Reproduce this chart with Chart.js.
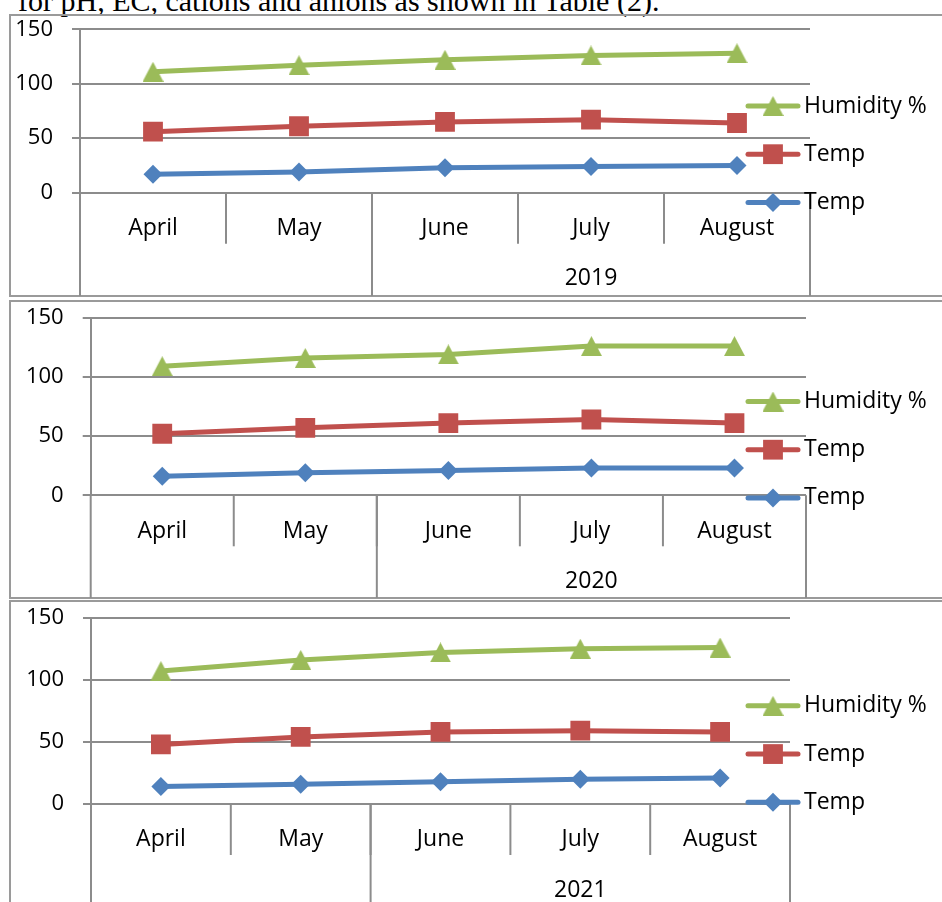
<!DOCTYPE html>
<html>
<head>
<meta charset="utf-8">
<script src="https://cdn.jsdelivr.net/npm/chart.js@4.4.1/dist/chart.umd.min.js"></script>
<style>
  body { margin: 0; background: #fff; width: 942px; height: 902px; overflow: hidden; position: relative; }
  .texto { position: absolute; left: 18px; top: -14px; font-family: "Liberation Serif", serif; font-size: 30px; line-height: 30px; white-space: nowrap; color: #000; }
  .marco { position: absolute; left: 9px; width: 960px; border: 2px solid #9a9a9a; box-sizing: border-box; }
  canvas { position: absolute; left: 0; }
</style>
</head>
<body>
<div class="texto">for pH, EC, cations and anions as shown in Table (2).</div>

<div class="marco" style="top:14px; height:283px"></div>
<div class="marco" style="top:300px; height:299px"></div>
<div class="marco" style="top:600px; height:330px"></div>

<canvas id="g2019" width="942" height="282" style="top:14px"></canvas>
<canvas id="g2020" width="942" height="297" style="top:301px"></canvas>
<canvas id="g2021" width="942" height="301" style="top:601px"></canvas>

<script>
// --- DATOS ---
const meses = ['April', 'May', 'June', 'July', 'August'];
const anios = ['2019', '2020', '2021'];
const mesesPorGrupo = [2, 3]; // grupo sin nombre (April, May) y grupo del año (June-August)
const serieNombres = ['Temp', 'Temp', 'Humidity %'];
const yTicks = [0, 50, 100, 150];

const tempAzul2019 = [17, 19, 23, 24, 25];
const tempRojo2019 = [56, 61, 65, 67, 64];
const humedad2019 = [111, 117, 122, 126, 128];

const tempAzul2020 = [16, 19, 21, 23, 23];
const tempRojo2020 = [52, 57, 61, 64, 61];
const humedad2020 = [109, 116, 119, 126, 126];

const tempAzul2021 = [14, 16, 18, 20, 21];
const tempRojo2021 = [48, 54, 58, 59, 58];
const humedad2021 = [107, 116, 122, 125, 126];

// --- ESTILO ---
const AZUL = '#4F81BD', ROJO = '#C0504D', VERDE = '#9BBB59', GRIS = '#8c8c8c';
const FUENTE = { family: '"Open Sans", sans-serif', size: 23 };
const FUENTE_Y = { family: '"Open Sans", sans-serif', size: 22 };

// triángulo centrado en el punto, como el marcador de Excel
function hacerTriangulo(color) {
    const c = document.createElement('canvas');
    c.width = 21; c.height = 20;
    const g = c.getContext('2d');
    g.fillStyle = color;
    g.beginPath();
    g.moveTo(10.5, 0); g.lineTo(21, 20); g.lineTo(0, 20);
    g.closePath();
    g.fill();
    return c;
}
const triVerde = hacerTriangulo(VERDE);

// filas de categorías (meses + año) debajo del eje
const filasCategoria = {
    id: 'filasCategoria',
    afterDraw(chart, args, opts) {
        const { ctx, chartArea: a, scales: { x } } = chart;
        const fondo = chart.height;
        const borde = i => (x.getPixelForValue(i - 1) + x.getPixelForValue(i)) / 2;
        ctx.save();
        ctx.strokeStyle = GRIS;
        ctx.lineWidth = 2;
        const linea = (x0, y0, y1) => { ctx.beginPath(); ctx.moveTo(x0, y0); ctx.lineTo(x0, y1); ctx.stroke(); };

        for (let i = 1; i < meses.length; i++) linea(borde(i), a.bottom, a.bottom + 51);
        linea(a.left, a.bottom, fondo);
        linea(a.right, a.bottom, fondo);

        let inicio = 0;
        const nombres = ['', opts.anio];
        mesesPorGrupo.forEach((n, k) => {
            const x0 = inicio === 0 ? a.left : borde(inicio);
            const x1 = inicio + n >= meses.length ? a.right : borde(inicio + n);
            if (inicio > 0) linea(x0, a.bottom, fondo);
            if (nombres[k]) {
                ctx.fillStyle = '#000';
                ctx.font = `${FUENTE.size}px ${FUENTE.family}`;
                ctx.textAlign = 'center';
                ctx.textBaseline = 'middle';
                ctx.fillText(nombres[k], (x0 + x1) / 2, a.bottom + 86);
            }
            inicio += n;
        });
        ctx.restore();
    }
};

// leyenda a la derecha, encima del área del gráfico
const leyenda = {
    id: 'leyenda',
    afterDraw(chart) {
        const { ctx, chartArea: a } = chart;
        const medio = (a.top + a.bottom) / 2;
        const orden = [2, 1, 0];
        ctx.save();
        orden.forEach((d, k) => {
            const ds = chart.data.datasets[d];
            const y = medio - 5 + 48.2 * k;
            ctx.strokeStyle = ds.borderColor;
            ctx.lineWidth = 5;
            ctx.lineCap = 'round';
            ctx.beginPath(); ctx.moveTo(748, y); ctx.lineTo(798, y); ctx.stroke();
            ctx.fillStyle = ds.pointBackgroundColor;
            Chart.helpers.drawPoint(ctx, { pointStyle: ds.pointStyle, radius: ds.pointRadius, rotation: 0, borderWidth: 0 }, 773, y);
            ctx.fillStyle = '#000';
            ctx.font = `${FUENTE.size}px ${FUENTE.family}`;
            ctx.textAlign = 'left';
            ctx.textBaseline = 'middle';
            ctx.fillText(ds.label, 804, y);
        });
        ctx.restore();
    }
};

function graficar(id, anio, azul, rojo, verde, p) {
    const canvas = document.getElementById(id);
    const top = parseFloat(canvas.style.top);
    new Chart(canvas.getContext('2d'), {
        type: 'line',
        data: {
            labels: meses,
            datasets: [
                { label: serieNombres[0], data: azul, borderColor: AZUL, pointBackgroundColor: AZUL, pointStyle: 'rectRot', pointRadius: 9.5 },
                { label: serieNombres[1], data: rojo, borderColor: ROJO, pointBackgroundColor: ROJO, pointStyle: 'rect', pointRadius: 14 },
                { label: serieNombres[2], data: verde, borderColor: VERDE, pointBackgroundColor: VERDE, pointStyle: triVerde, pointRadius: 10 }
            ].map(ds => Object.assign(ds, { borderWidth: 5, borderCapStyle: 'round', pointBorderWidth: 0, tension: 0 }))
        },
        options: {
            responsive: false,
            animation: false,
            layout: { padding: { left: 0, right: 942 - p.der, top: p.arriba - top, bottom: 0 } },
            plugins: { legend: { display: false }, tooltip: { enabled: false }, filasCategoria: { anio } },
            scales: {
                x: {
                    offset: true,
                    grid: { display: false, drawTicks: false },
                    border: { display: false },
                    ticks: { font: FUENTE, color: '#000', padding: 22, maxRotation: 0 },
                    afterFit: s => { s.height = canvas.height - (p.abajo - top); s.paddingLeft = 0; s.paddingRight = 0; }
                },
                y: {
                    min: yTicks[0],
                    max: yTicks[yTicks.length - 1],
                    ticks: { stepSize: yTicks[1] - yTicks[0], font: FUENTE_Y, color: '#000', padding: 19 },
                    grid: { color: GRIS, lineWidth: 2, tickLength: 8 },
                    border: { color: GRIS, width: 2 },
                    afterFit: s => { s.width = p.izq; s.paddingTop = 0; s.paddingBottom = 0; }
                }
            }
        },
        plugins: [filasCategoria, leyenda]
    });
}

graficar('g2019', anios[0], tempAzul2019, tempRojo2019, humedad2019, { izq: 80, der: 810, arriba: 29.3, abajo: 192.7 });
graficar('g2020', anios[1], tempAzul2020, tempRojo2020, humedad2020, { izq: 90.7, der: 806, arriba: 317.7, abajo: 495.3 });
graficar('g2021', anios[2], tempAzul2021, tempRojo2021, humedad2021, { izq: 91, der: 790, arriba: 617.7, abajo: 804 });
</script>
</body>
</html>
